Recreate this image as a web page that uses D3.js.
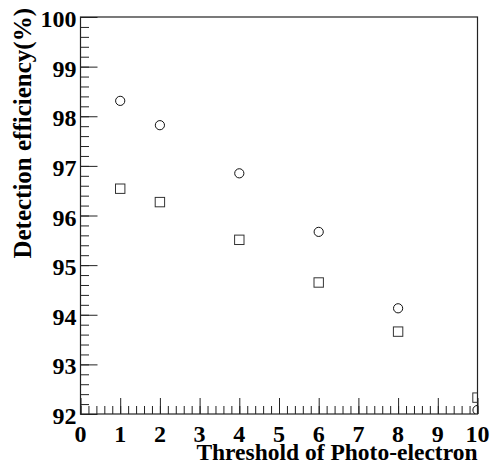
<!DOCTYPE html>
<html>
<head>
<meta charset="utf-8">
<script src="https://cdn.jsdelivr.net/npm/d3@7"></script>
<style>
  html, body { margin: 0; padding: 0; background: #fff; }
  svg { display: block; }
</style>
</head>
<body>
<div id="chart"></div>
<script>
// Photo-electron thresholds and the two efficiency series (%)
const thresholds = [1, 2, 4, 6, 8, 10];
const efficiencyCircles = [98.31, 97.82, 96.85, 95.67, 94.13, 92.08];
const efficiencySquares = [96.54, 96.27, 95.51, 94.65, 93.66, 92.33];

const xTickValues = [0, 1, 2, 3, 4, 5, 6, 7, 8, 9, 10];
const yTickValues = [92, 93, 94, 95, 96, 97, 98, 99, 100];

const xTitle = "Threshold of Photo-electron";
const yTitle = "Detection efficiency(%)";

const W = 492, H = 466;
const frame = { left: 80.5, right: 477.5, top: 17, bottom: 414 };
const serif = "Liberation Serif";

const svg = d3.select("#chart").append("svg")
  .attr("width", W).attr("height", H);

const x = d3.scaleLinear().domain([0, 10]).range([frame.left, frame.right]);
const y = d3.scaleLinear().domain([92, 100]).range([frame.bottom, frame.top]);

const xMinor = d3.range(0, 10.001, 0.2).map(v => +v.toFixed(1));
const yMinor = d3.range(92, 100.001, 0.2).map(v => +v.toFixed(1));

const tickColor = "#222";

function tickLinesOnly(g) {
  g.select(".domain").remove();
  g.selectAll(".tick text").remove();
  g.selectAll(".tick line").attr("stroke", tickColor);
}

// x axis: ticks point up into the frame
svg.append("g").attr("transform", `translate(0,${frame.bottom})`)
  .call(d3.axisBottom(x).tickValues(xMinor).tickSize(-8))
  .call(tickLinesOnly);
svg.append("g").attr("transform", `translate(0,${frame.bottom})`)
  .call(d3.axisBottom(x).tickValues(xTickValues).tickSize(-16))
  .call(tickLinesOnly);

// y axis: ticks point right into the frame
svg.append("g").attr("transform", `translate(${frame.left},0)`)
  .call(d3.axisLeft(y).tickValues(yMinor).tickSize(-8.5))
  .call(tickLinesOnly);
svg.append("g").attr("transform", `translate(${frame.left},0)`)
  .call(d3.axisLeft(y).tickValues(yTickValues).tickSize(-17))
  .call(tickLinesOnly);

// tick labels
svg.append("g").selectAll("text").data(xTickValues).join("text")
  .attr("x", d => x(d)).attr("y", frame.bottom + 27.5)
  .attr("text-anchor", "middle")
  .attr("font-family", serif).attr("font-weight", "bold").attr("font-size", 24)
  .text(d3.format("d"));

svg.append("g").selectAll("text").data(yTickValues).join("text")
  .attr("x", frame.left - 4).attr("y", d => y(d) + 10)
  .attr("text-anchor", "end")
  .attr("font-family", serif).attr("font-weight", "bold").attr("font-size", 24)
  .text(d3.format("d"));

// frame
svg.append("rect")
  .attr("x", frame.left).attr("y", frame.top)
  .attr("width", frame.right - frame.left).attr("height", frame.bottom - frame.top)
  .attr("fill", "none").attr("stroke", "#222").attr("stroke-width", 1.2);

// markers, clipped to the frame
svg.append("clipPath").attr("id", "plotClip")
  .append("rect")
  .attr("x", frame.left).attr("y", frame.top)
  .attr("width", frame.right - frame.left).attr("height", frame.bottom - frame.top);

const marks = svg.append("g").attr("clip-path", "url(#plotClip)");

marks.selectAll("circle.eff").data(thresholds)
  .join("circle").attr("class", "eff")
  .attr("cx", (d) => x(d))
  .attr("cy", (d, i) => y(efficiencyCircles[i]))
  .attr("r", 4.6)
  .attr("fill", "none").attr("stroke", "#111").attr("stroke-width", 1);

const sq = 9.4;
marks.selectAll("rect.eff").data(thresholds)
  .join("rect").attr("class", "eff")
  .attr("x", (d) => x(d) - sq / 2)
  .attr("y", (d, i) => y(efficiencySquares[i]) - sq / 2)
  .attr("width", sq).attr("height", sq)
  .attr("fill", "none").attr("stroke", "#333").attr("stroke-width", 1);

// titles
svg.append("text")
  .attr("x", frame.right).attr("y", 460)
  .attr("text-anchor", "end")
  .attr("font-family", serif).attr("font-weight", "bold").attr("font-size", 23.5)
  .text(xTitle);

svg.append("text")
  .attr("transform", `translate(31,8) rotate(-90)`)
  .attr("text-anchor", "end")
  .attr("font-family", serif).attr("font-weight", "bold").attr("font-size", 25)
  .text(yTitle);
</script>
</body>
</html>
